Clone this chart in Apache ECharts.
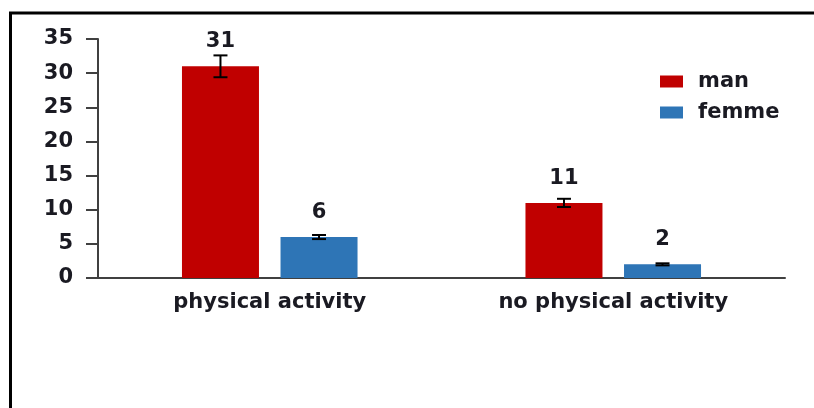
<!DOCTYPE html>
<html>
<head>
<meta charset="utf-8">
<script src="https://cdn.jsdelivr.net/npm/echarts@6/dist/echarts.min.js"></script>
<style>
html,body{margin:0;padding:0;background:#fff;}
#chart{width:814px;height:408px;}
</style>
</head>
<body>
<div id="chart"></div>
<script>
const categories = ['physical activity', 'no physical activity'];
const seriesNames = ['man', 'femme'];
const manValues = [31, 11];
const femmeValues = [6, 2];
const manErrors = [1.6, 0.6];
const femmeErrors = [0.3, 0.15];
const yTicks = [0, 5, 10, 15, 20, 25, 30, 35];

const BAR_W = 77;
const BAR_GAP = 0.28;
const FONT = '"DejaVu Sans", Verdana, sans-serif';
const TXT = '#1a1a22';

const errData = [];
categories.forEach((c, i) => {
  errData.push([i, manValues[i] - manErrors[i], manValues[i] + manErrors[i], -1]);
  errData.push([i, femmeValues[i] - femmeErrors[i], femmeValues[i] + femmeErrors[i], 1]);
});

const chart = echarts.init(document.getElementById('chart'), null, {renderer: 'canvas'});
chart.setOption({
  animation: false,
  backgroundColor: '#fff',
  graphic: [{
    type: 'rect',
    shape: {x: 10.5, y: 13, width: 900, height: 600},
    style: {fill: 'none', stroke: '#000', lineWidth: 3},
    silent: true
  }],
  grid: {left: 98, right: 29, top: 39, bottom: 130, containLabel: false},
  legend: {
    data: seriesNames,
    orient: 'vertical',
    left: 660,
    top: 71,
    padding: 0,
    itemWidth: 23,
    itemHeight: 12,
    itemGap: 10,
    icon: 'rect',
    textStyle: {fontFamily: FONT, fontWeight: 'bold', fontSize: 21, color: TXT, lineHeight: 20, padding: [0, 0, 0, 10]}
  },
  xAxis: {
    type: 'category',
    data: categories,
    axisLine: {lineStyle: {color: '#404040', width: 2}},
    axisTick: {show: false},
    axisLabel: {fontFamily: FONT, fontWeight: 'bold', fontSize: 21, color: TXT, margin: 14}
  },
  yAxis: {
    type: 'value',
    min: yTicks[0],
    max: yTicks[yTicks.length - 1],
    interval: 5,
    splitLine: {show: false},
    axisLine: {show: true, lineStyle: {color: '#404040', width: 2}},
    axisTick: {show: true, length: 12, lineStyle: {color: '#404040', width: 2}},
    axisLabel: {fontFamily: FONT, fontWeight: 'bold', fontSize: 21, color: TXT, margin: 25}
  },
  series: [
    {
      name: 'man', type: 'bar', data: manValues, barWidth: BAR_W, barGap: (BAR_GAP * 100) + '%',
      itemStyle: {color: '#C00000'},
      label: {show: true, position: 'top', distance: 14, fontFamily: FONT, fontWeight: 'bold', fontSize: 21, color: TXT}
    },
    {
      name: 'femme', type: 'bar', data: femmeValues, barWidth: BAR_W,
      itemStyle: {color: '#2E75B6'},
      label: {show: true, position: 'top', distance: 14, fontFamily: FONT, fontWeight: 'bold', fontSize: 21, color: TXT}
    },
    {
      name: 'err', type: 'custom', z: 10,
      data: errData,
      renderItem: function (params, api) {
        const ci = api.value(0);
        const side = api.value(3);
        const off = side * BAR_W * (1 + BAR_GAP) / 2;
        const lo = api.coord([ci, api.value(1)]);
        const hi = api.coord([ci, api.value(2)]);
        const x = lo[0] + off;
        const cap = 7;
        const st = {stroke: '#000', lineWidth: 2};
        return {
          type: 'group',
          children: [
            {type: 'line', shape: {x1: x, y1: lo[1], x2: x, y2: hi[1]}, style: st},
            {type: 'line', shape: {x1: x - cap, y1: lo[1], x2: x + cap, y2: lo[1]}, style: st},
            {type: 'line', shape: {x1: x - cap, y1: hi[1], x2: x + cap, y2: hi[1]}, style: st}
          ]
        };
      }
    }
  ]
});
</script>
</body>
</html>
